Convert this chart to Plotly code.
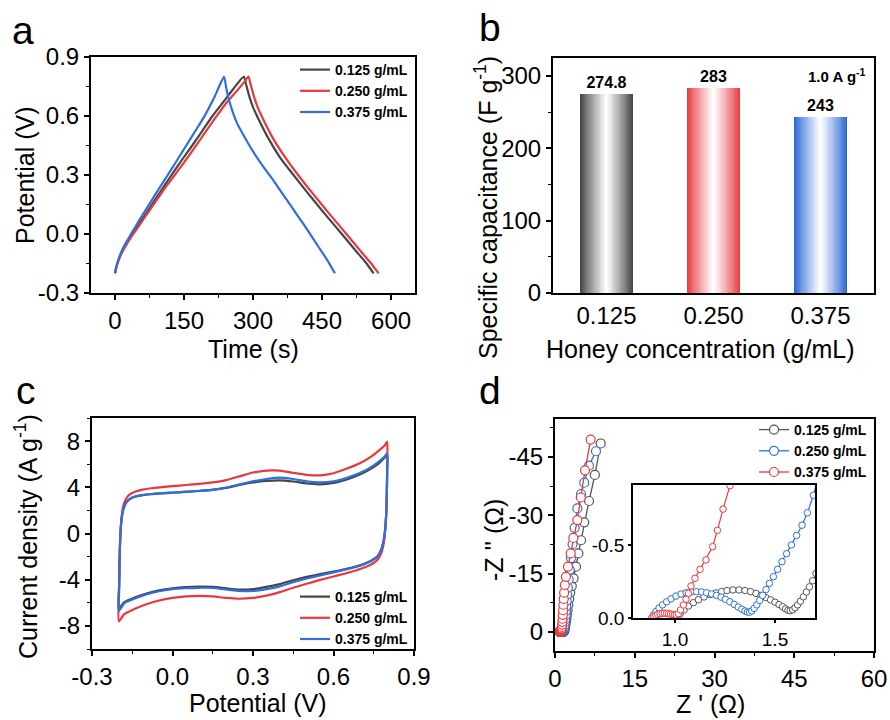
import plotly.graph_objects as go

# ---------------- data ----------------
# (a) GCD curves at 1 A/g
GCD_T_0125 = [0, 4, 11, 18, 26, 38, 60, 80, 100, 123, 145, 168, 190, 212, 235, 258, 280,
              285, 292, 300, 315, 335, 360, 388, 420, 455, 493, 525, 545, 562]
GCD_V_0125 = [-0.20, -0.16, -0.112, -0.078, -0.045, 0.00, 0.077, 0.148, 0.22, 0.30, 0.375, 0.45, 0.525, 0.60, 0.67, 0.74, 0.80,
              0.76, 0.70, 0.645, 0.57, 0.48, 0.385, 0.30, 0.205, 0.105, 0.00, -0.09, -0.145, -0.20]
GCD_T_0250 = [0, 4, 11, 18, 26, 40, 62, 84, 106, 130, 152, 175, 197, 218, 240, 262, 280, 290,
              295, 302, 310, 325, 345, 370, 398, 430, 465, 503, 535, 555, 573]
GCD_V_0250 = [-0.20, -0.162, -0.116, -0.083, -0.05, 0.00, 0.075, 0.15, 0.225, 0.30, 0.37, 0.445, 0.52, 0.59, 0.66, 0.72, 0.77, 0.80,
              0.76, 0.70, 0.645, 0.57, 0.48, 0.39, 0.30, 0.205, 0.105, 0.00, -0.09, -0.145, -0.20]
GCD_T_0375 = [0, 4, 10, 17, 25, 35, 55, 75, 95, 112, 135, 155, 175, 194, 215, 237,
              242, 248, 256, 266, 280, 300, 320, 345, 370, 395, 420, 445, 462, 478]
GCD_V_0375 = [-0.20, -0.158, -0.115, -0.075, -0.04, 0.00, 0.078, 0.153, 0.228, 0.29, 0.375, 0.45, 0.525, 0.597, 0.69, 0.80,
              0.74, 0.68, 0.62, 0.56, 0.50, 0.42, 0.35, 0.27, 0.185, 0.10, 0.015, -0.075, -0.135, -0.20]

# (b) specific capacitance
CONC = ["0.125", "0.250", "0.375"]
CAP = [274.8, 283, 243]

# (c) CV loops
CV_E = [-0.200, -0.199, -0.197, -0.194, -0.189, -0.182, -0.172, -0.158, -0.140, -0.115, -0.080, -0.040,
        0.000, 0.050, 0.100, 0.150, 0.200, 0.250, 0.300, 0.350, 0.400, 0.450, 0.500, 0.550, 0.600, 0.650, 0.700,
        0.740, 0.770, 0.790, 0.800,
        0.800, 0.799, 0.797, 0.793, 0.787, 0.778, 0.765, 0.745, 0.715, 0.680, 0.640,
        0.600, 0.550, 0.500, 0.450, 0.400, 0.350, 0.300, 0.250, 0.200, 0.150, 0.100, 0.050, 0.000, -0.050, -0.100, -0.150,
        -0.180, -0.200]
CV_I_0125 = [-6.50, -4.50, -2.00, 0.00, 1.40, 2.20, 2.70, 3.00, 3.18, 3.30, 3.40, 3.47,
             3.53, 3.60, 3.68, 3.78, 3.95, 4.20, 4.42, 4.55, 4.60, 4.50, 4.33, 4.26, 4.38, 4.68, 5.12,
             5.62, 6.10, 6.55, 6.85,
             5.50, 3.80, 2.00, 0.50, -0.60, -1.40, -1.95, -2.30, -2.62, -2.88, -3.10,
             -3.30, -3.52, -3.76, -4.05, -4.38, -4.62, -4.82, -4.86, -4.75, -4.62, -4.60, -4.64, -4.74, -4.92, -5.22, -5.62,
             -5.95, -6.50]
CV_I_0250 = [-7.60, -5.20, -2.30, 0.00, 1.60, 2.50, 3.05, 3.40, 3.62, 3.78, 3.92, 4.02,
             4.10, 4.20, 4.30, 4.42, 4.62, 4.95, 5.28, 5.45, 5.45, 5.25, 5.08, 5.04, 5.22, 5.62, 6.10,
             6.65, 7.20, 7.60, 7.95,
             6.20, 4.00, 2.00, 0.30, -0.90, -1.70, -2.25, -2.62, -2.95, -3.22, -3.48,
             -3.72, -4.02, -4.35, -4.70, -5.08, -5.38, -5.58, -5.65, -5.58, -5.45, -5.40, -5.45, -5.58, -5.80, -6.15, -6.62,
             -6.98, -7.60]
CV_I_0375 = [-6.70, -4.60, -2.00, 0.00, 1.40, 2.20, 2.72, 3.02, 3.20, 3.32, 3.42, 3.50,
             3.55, 3.62, 3.70, 3.80, 3.98, 4.25, 4.52, 4.72, 4.84, 4.72, 4.52, 4.42, 4.52, 4.82, 5.25,
             5.75, 6.25, 6.65, 6.95,
             5.50, 3.80, 2.00, 0.50, -0.60, -1.40, -1.95, -2.32, -2.65, -2.92, -3.15,
             -3.36, -3.62, -3.90, -4.22, -4.58, -4.82, -4.98, -4.98, -4.85, -4.72, -4.70, -4.74, -4.82, -5.00, -5.30, -5.72,
             -6.05, -6.70]

# (d) Nyquist plots (Z'' plotted as negative values on a reversed axis)
EIS_ZRE_0125 = [1.010, 1.025, 1.045, 1.067, 1.092, 1.117, 1.145, 1.175, 1.205, 1.233,
                1.260, 1.290, 1.320, 1.350, 1.378, 1.405, 1.430, 1.455, 1.478, 1.500,
                1.520, 1.538, 1.553, 1.565, 1.576, 1.588, 1.600, 1.613, 1.627, 1.642,
                1.657, 1.672, 1.688, 1.705,
                1.72, 1.75, 1.79, 1.84, 1.90, 1.97, 2.05, 2.14, 2.24, 2.36,
                2.50, 2.66, 2.85, 3.15, 3.50, 3.95, 4.40, 4.90, 5.50, 6.40, 7.50, 8.60]
EIS_ZIM_0125 = [-0.005, -0.027, -0.055, -0.082, -0.105, -0.125, -0.144, -0.160, -0.172, -0.181,
                -0.188, -0.192, -0.192, -0.188, -0.180, -0.168, -0.155, -0.140, -0.124, -0.108,
                -0.092, -0.077, -0.063, -0.053, -0.050, -0.056, -0.070, -0.090, -0.115, -0.145,
                -0.178, -0.213, -0.255, -0.305,
                -0.37, -0.52, -0.72, -1.00, -1.40, -1.95, -2.60, -3.40, -4.40, -5.60,
                -7.00, -8.50, -10.1, -11.8, -13.8, -16.8, -20.2, -23.6, -28.2, -33.7, -40.4, -48.5]
EIS_ZRE_0250 = [0.885, 0.893, 0.905, 0.920, 0.938, 0.958, 0.980, 1.005, 1.030, 1.056,
                1.082, 1.108, 1.133, 1.158, 1.183, 1.207, 1.230, 1.252, 1.274, 1.296,
                1.316, 1.334, 1.350, 1.362, 1.373, 1.384, 1.396, 1.409, 1.423, 1.438,
                1.455, 1.472, 1.492, 1.513, 1.535, 1.558, 1.582, 1.608, 1.635, 1.662, 1.692,
                1.72, 1.76, 1.81, 1.87, 1.93, 2.00, 2.06, 2.13, 2.20, 2.30,
                2.42, 2.58, 2.78, 3.00, 3.30, 3.70, 4.20, 4.90, 5.50, 6.40, 7.70]
EIS_ZIM_0250 = [-0.002, -0.022, -0.045, -0.068, -0.090, -0.111, -0.131, -0.150, -0.164, -0.173,
                -0.179, -0.180, -0.178, -0.173, -0.165, -0.155, -0.143, -0.128, -0.111, -0.093,
                -0.075, -0.060, -0.048, -0.041, -0.040, -0.048, -0.066, -0.090, -0.120, -0.155,
                -0.195, -0.237, -0.283, -0.333, -0.385, -0.440, -0.500, -0.565, -0.635, -0.720, -0.840,
                -0.98, -1.30, -1.80, -2.50, -3.30, -4.30, -5.40, -6.60, -8.00, -9.60,
                -11.4, -13.5, -16.0, -19.0, -22.6, -26.8, -31.8, -35.5, -38.4, -42.8, -46.5]
EIS_ZRE_0375 = [0.885, 0.894, 0.904, 0.914, 0.925, 0.936, 0.947, 0.958, 0.968, 0.978,
                0.988, 0.997, 1.006, 1.017, 1.028, 1.042, 1.055, 1.067, 1.080, 1.100,
                1.125, 1.155, 1.188, 1.212, 1.240, 1.275,
                1.31, 1.35, 1.39, 1.43, 1.48, 1.53, 1.58, 1.64, 1.72, 1.85,
                2.05, 2.45, 2.95, 3.45, 4.20, 4.85, 5.65, 6.70]
EIS_ZIM_0375 = [-0.002, -0.011, -0.019, -0.025, -0.029, -0.032, -0.033, -0.032, -0.030, -0.027,
                -0.024, -0.022, -0.022, -0.030, -0.055, -0.089, -0.128, -0.169, -0.219, -0.272,
                -0.333, -0.397, -0.488, -0.600, -0.745, -0.905,
                -1.30, -1.90, -2.60, -3.40, -4.40, -5.60, -7.00, -8.50, -10.1, -12.1,
                -14.2, -16.8, -20.2, -24.2, -28.8, -34.6, -41.6, -49.5]

# tick values
A_XT = [0, 150, 300, 450, 600]
A_YT = [-0.3, 0.0, 0.3, 0.6, 0.9]
B_YT = [0, 100, 200, 300]
C_XT = [-0.3, 0.0, 0.3, 0.6, 0.9]
C_YT = [-8, -4, 0, 4, 8]
D_XT = [0, 15, 30, 45, 60]
D_YT = [0, -15, -30, -45]
IN_XT = [1.0, 1.5]
IN_YT = [0.0, -0.5]

LABELS = ["0.125 g/mL", "0.250 g/mL", "0.375 g/mL"]

# ---------------- style ----------------
W, H = 890, 720
FONT = "Arial, 'Liberation Sans', Helvetica, sans-serif"
C_BLACK = "#454545"
C_RED = "#e8383d"
C_BLUE = "#2f6fdc"
TICK_SIZE = 24
TITLE_SIZE = 25


def X(px):
    return px / W


def Y(py):
    return 1 - py / H


def tt(vals, f):
    return [f.format(v) for v in vals]


fig = go.Figure()

# ---- panel a ----
for t, v, c, name in [(GCD_T_0125, GCD_V_0125, C_BLACK, LABELS[0]),
                      (GCD_T_0250, GCD_V_0250, C_RED, LABELS[1]),
                      (GCD_T_0375, GCD_V_0375, C_BLUE, LABELS[2])]:
    fig.add_trace(go.Scatter(x=t, y=v, mode="lines", line=dict(color=c, width=2.2, shape="spline", smoothing=0.5),
                             name="<b>%s</b>" % name, legend="legend", xaxis="x", yaxis="y"))

# ---- panel b: gradient bars built from overlaid bars ----
EDGE = [(70, 70, 70), (232, 60, 66), (45, 105, 215)]
N = 30
W0 = 0.49
for k in range(N):
    t = (k / (N - 1)) ** 0.9
    cols = ["rgb(%d,%d,%d)" % tuple(int(round(e * (1 - t) + 255 * t)) for e in ed) for ed in EDGE]
    kw = {}
    if k == 0:
        kw = dict(text=["<b>%g</b>" % v for v in CAP], textposition="outside",
                  textfont=dict(size=16, color="black", family=FONT), cliponaxis=False,
                  constraintext="none")
    fig.add_trace(go.Bar(x=CONC, y=CAP, width=W0 * (1 - k / N), marker=dict(color=cols, line=dict(width=0)),
                         showlegend=False, xaxis="x2", yaxis="y2", **kw))

# ---- panel c ----
for i, c, name in [(CV_I_0125, C_BLACK, LABELS[0]), (CV_I_0250, C_RED, LABELS[1]), (CV_I_0375, C_BLUE, LABELS[2])]:
    fig.add_trace(go.Scatter(x=CV_E, y=i, mode="lines", line=dict(color=c, width=2.2, shape="spline", smoothing=0.6),
                             name="<b>%s</b>" % name, legend="legend2", xaxis="x3", yaxis="y3"))

# ---- panel d ----
D_BLACK = "#555555"
D_BLUE = "#2d6fd8"
D_RED = "#e8393c"
for zr, zi, c, name in [(EIS_ZRE_0125, EIS_ZIM_0125, D_BLACK, LABELS[0]),
                        (EIS_ZRE_0250, EIS_ZIM_0250, D_BLUE, LABELS[1]),
                        (EIS_ZRE_0375, EIS_ZIM_0375, D_RED, LABELS[2])]:
    fig.add_trace(go.Scatter(x=zr, y=zi, mode="lines+markers", line=dict(color=c, width=1.3),
                             marker=dict(symbol="circle", size=9, color="white", line=dict(color=c, width=1.2)),
                             name="<b>%s</b>" % name, legend="legend3", xaxis="x4", yaxis="y4"))
for zr, zi, c in [(EIS_ZRE_0125, EIS_ZIM_0125, D_BLACK),
                  (EIS_ZRE_0250, EIS_ZIM_0250, D_BLUE),
                  (EIS_ZRE_0375, EIS_ZIM_0375, D_RED)]:
    fig.add_trace(go.Scatter(x=zr, y=zi, mode="lines+markers", line=dict(color=c, width=1.2),
                             marker=dict(symbol="circle", size=6.5, color="white", line=dict(color=c, width=1)),
                             showlegend=False, xaxis="x5", yaxis="y5"))

# ---------------- axes ----------------
def ax(**kw):
    d = dict(showline=True, linewidth=2, linecolor="black", mirror=True, ticks="outside", ticklen=5,
             tickwidth=1.5, tickcolor="black", showgrid=False, zeroline=False, automargin=False,
             tickfont=dict(size=TICK_SIZE, color="black", family=FONT))
    d.update(kw)
    return d


def minor(dt, t0=0):
    return dict(tickmode="linear", tick0=t0, dtick=dt, ticks="outside", ticklen=3, tickwidth=1.2, tickcolor="black")


IN_FONT = dict(size=19, color="black", family=FONT)
layout = dict(
    width=W, height=H, margin=dict(l=0, r=0, t=0, b=0, pad=0, autoexpand=False),
    paper_bgcolor="white", plot_bgcolor="white",
    font=dict(family=FONT, color="black"),
    barmode="overlay", bargap=0,
    xaxis=ax(domain=[X(91), X(415)], range=[-52, 652], tickvals=A_XT, ticktext=tt(A_XT, "{:g}"),
             minor=minor(75), anchor="y"),
    yaxis=ax(domain=[Y(293), Y(57)], range=[-0.3, 0.9], tickvals=A_YT, ticktext=tt(A_YT, "{:.1f}"),
             minor=minor(0.15, -0.3), anchor="x"),
    xaxis2=ax(domain=[X(553), X(874)], type="category", range=[-0.5, 2.5], ticks="", anchor="y2"),
    yaxis2=ax(domain=[Y(293), Y(58)], range=[0, 325], tickvals=B_YT, ticktext=tt(B_YT, "{:g}"),
              minor=minor(50), anchor="x2"),
    xaxis3=ax(domain=[X(92), X(414)], range=[-0.3, 0.9], tickvals=C_XT, ticktext=tt(C_XT, "{:.1f}"),
              minor=minor(0.15, -0.3), anchor="y3"),
    yaxis3=ax(domain=[Y(649), Y(418)], range=[-10, 10], tickvals=C_YT, ticktext=tt(C_YT, "{:g}"),
              minor=minor(2), anchor="x3"),
    xaxis4=ax(domain=[X(555), X(874)], range=[0, 60], tickvals=D_XT, ticktext=tt(D_XT, "{:g}"),
              minor=minor(7.5), anchor="y4"),
    yaxis4=ax(domain=[Y(651), Y(419)], range=[4.9, -54.8], tickvals=D_YT, ticktext=tt(D_YT, "{:g}"),
              minor=minor(7.5), anchor="x4"),
    xaxis5=ax(domain=[X(633), X(815)], range=[0.79, 1.70], tickvals=IN_XT, ticktext=tt(IN_XT, "{:.1f}"),
              linewidth=1.5, ticklen=3, tickfont=IN_FONT, anchor="y5"),
    yaxis5=ax(domain=[Y(618), Y(485)], range=[0, -0.91], tickvals=IN_YT, ticktext=tt(IN_YT, "{:.1f}"),
              linewidth=1.5, ticklen=3, tickfont=IN_FONT, anchor="x5"),
)

leg = dict(xanchor="left", yanchor="top", bgcolor="rgba(0,0,0,0)", borderwidth=0,
           font=dict(size=14, color="black", family=FONT), tracegroupgap=0, itemwidth=30)
layout["legend"] = dict(leg, x=X(295), y=Y(54))
layout["legend2"] = dict(leg, x=X(295), y=Y(581))
layout["legend3"] = dict(leg, x=X(754), y=Y(414))

anns = []


def ann(text, px, py, size, angle=0, xa="center", ya="middle"):
    anns.append(dict(text=text, x=X(px), y=Y(py), xref="paper", yref="paper", showarrow=False,
                     textangle=angle, xanchor=xa, yanchor=ya, font=dict(size=size, color="black", family=FONT)))


# panel letters
ann("a", 23, 31, 39)
ann("b", 490, 28, 39)
ann("c", 26, 390, 39)
ann("d", 490, 391, 39)
# axis titles
ann("Time (s)", 253, 349, TITLE_SIZE)
ann("Potential (V)", 25, 175, TITLE_SIZE, angle=-90)
ann("Honey concentration (g/mL)", 700, 349, TITLE_SIZE)
ann("Specific capacitance (F g<sup>-1</sup>)", 486, 208, TITLE_SIZE, angle=-90)
ann("Potential (V)", 258, 703, TITLE_SIZE)
ann("Current density (A g<sup>-1</sup>)", 26, 537, TITLE_SIZE, angle=-90)
ann("Z ' (Ω)", 710, 704, TITLE_SIZE)
ann("-Z '' (Ω)", 494, 540, TITLE_SIZE, angle=-90)
# current density label in b
ann("<b>1.0 A g<sup>-1</sup></b>", 837, 76, 15)

layout["annotations"] = anns
fig.update_layout(**layout)
fig.write_html("out.html")
